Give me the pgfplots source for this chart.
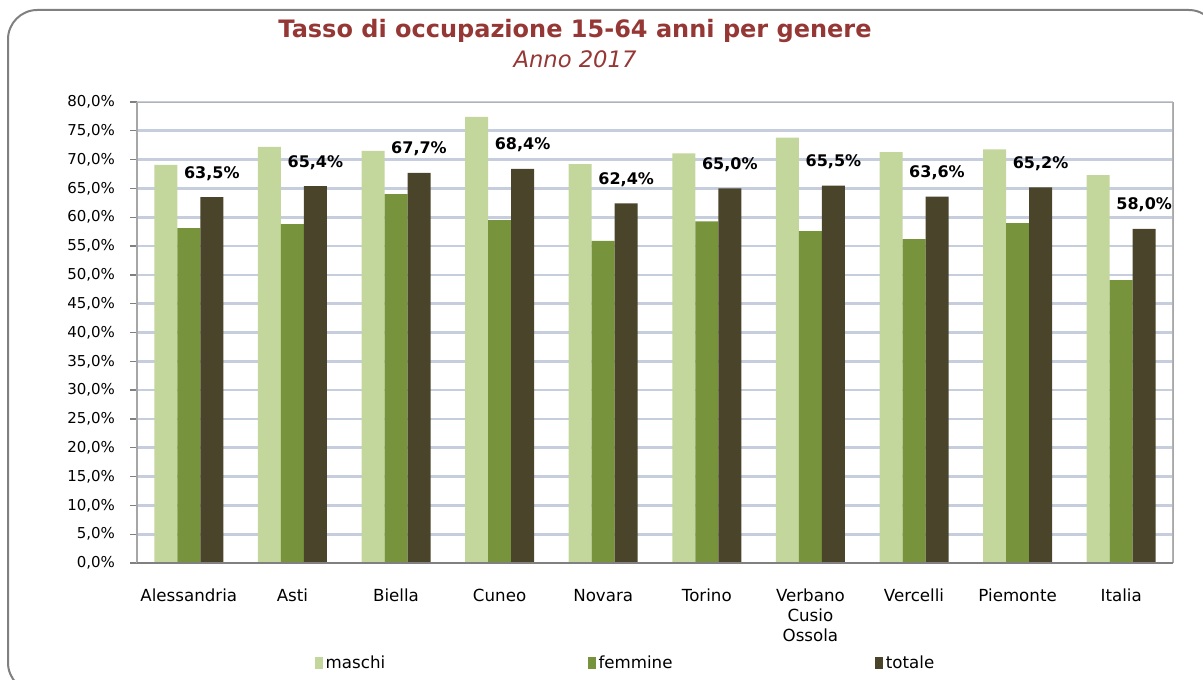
\documentclass[border=0pt]{standalone}
\usepackage{pgfplots}
\usepackage{pgfplotstable}
\pgfplotsset{compat=1.18}
\usepackage{fontspec}
\setmainfont{DejaVu Sans}

\definecolor{maschicol}{HTML}{C3D69B}
\definecolor{femminecol}{HTML}{77933C}
\definecolor{totalecol}{HTML}{4A452A}
\definecolor{titlecol}{HTML}{953735}
\definecolor{gridcol}{HTML}{C6CEDE}
\definecolor{framecol}{HTML}{808080}

\pgfplotstableread{
x maschi femmine totale
0 69.1 58.1 63.5
1 72.2 58.8 65.4
2 71.5 64.0 67.7
3 77.4 59.5 68.4
4 69.2 55.9 62.4
5 71.1 59.3 65.0
6 73.8 57.6 65.5
7 71.3 56.2 63.6
8 71.8 59.0 65.2
9 67.3 49.1 58.0
}\occtab

\begin{document}
\begin{tikzpicture}[x=0.75pt,y=0.75pt]
\useasboundingbox (0,0) rectangle (1203,679);
% outer frame
\draw[framecol, line width=1.5pt, rounded corners=22pt] (8,669) rectangle (1218,-13);
% titles
\node[font=\fontsize{18}{21}\selectfont\bfseries, text=titlecol] at (575,648) {Tasso di occupazione 15-64 anni per genere};
\node[font=\fontsize{17}{20}\selectfont\itshape, text=titlecol] at (575,620) {Anno 2017};

\begin{axis}[
    at={(102.75pt,87pt)}, anchor=south west,
    scale only axis,
    width=777pt, height=345.75pt,
    ybar=0pt, bar width=17.25pt,
    xmin=-0.5, xmax=9.5,
    ymin=0, ymax=80,
    ytick={0,5,...,80},
    ytick pos=left,
    yticklabel={\pgfmathprintnumber[fixed,fixed zerofill,precision=1,use comma]{\tick}\%},
    /pgf/number format/assume math mode=true,
    xtick={0,...,9},
    xticklabels={\strut Alessandria,\strut Asti,\strut Biella,\strut Cuneo,\strut Novara,\strut Torino,{\strut Verbano\\Cusio\\Ossola},\strut Vercelli,\strut Piemonte,\strut Italia},
    xticklabel style={align=center, yshift=-10pt, font=\fontsize{12.5}{15}\selectfont},
    yticklabel style={font=\fontsize{11.25}{13}\selectfont, xshift=-8pt},
    major x tick style={draw=none},
    extra x ticks={-0.5,0.5,...,9.5},
    extra x tick labels={},
    extra x tick style={major tick length=6pt, tick style={draw=framecol, line width=1pt}},
    tick align=outside,
    major tick length=5pt,
    y tick style={draw=framecol, line width=1pt},
    ymajorgrids,
    grid style={gridcol, line width=2pt},
    axis line style={draw=black!35, line width=1pt},
    axis x line*=bottom,
    legend columns=3,
    legend style={at={(0.472,-0.217)}, anchor=center, draw=none,
        font=\fontsize{12.5}{15}\selectfont,
        /tikz/every even column/.append style={column sep=150pt}},
    legend image code/.code={\fill[#1] (0pt,-4.5pt) rectangle (6pt,4.5pt);},
]
\draw[black!30, line width=1pt] (rel axis cs:0,1) -- (rel axis cs:1,1) -- (rel axis cs:1,0);
\addplot[fill=maschicol, draw=none] table[x=x,y=maschi]{\occtab};
\addlegendentry{maschi}
\addplot[fill=femminecol, draw=none] table[x=x,y=femmine]{\occtab};
\addlegendentry{femmine}
\addplot[fill=totalecol, draw=none,
    nodes near coords={\pgfmathprintnumber[fixed,fixed zerofill,precision=1,use comma]{\pgfplotspointmeta}\%},
    nodes near coords style={font=\fontsize{12}{14}\selectfont\bfseries, text=black, yshift=9pt}
    ] table[x=x,y=totale]{\occtab};
\addlegendentry{totale}
\draw[framecol, line width=1.5pt] (rel axis cs:0,0) -- (rel axis cs:1,0);
\end{axis}
\end{tikzpicture}
\end{document}
